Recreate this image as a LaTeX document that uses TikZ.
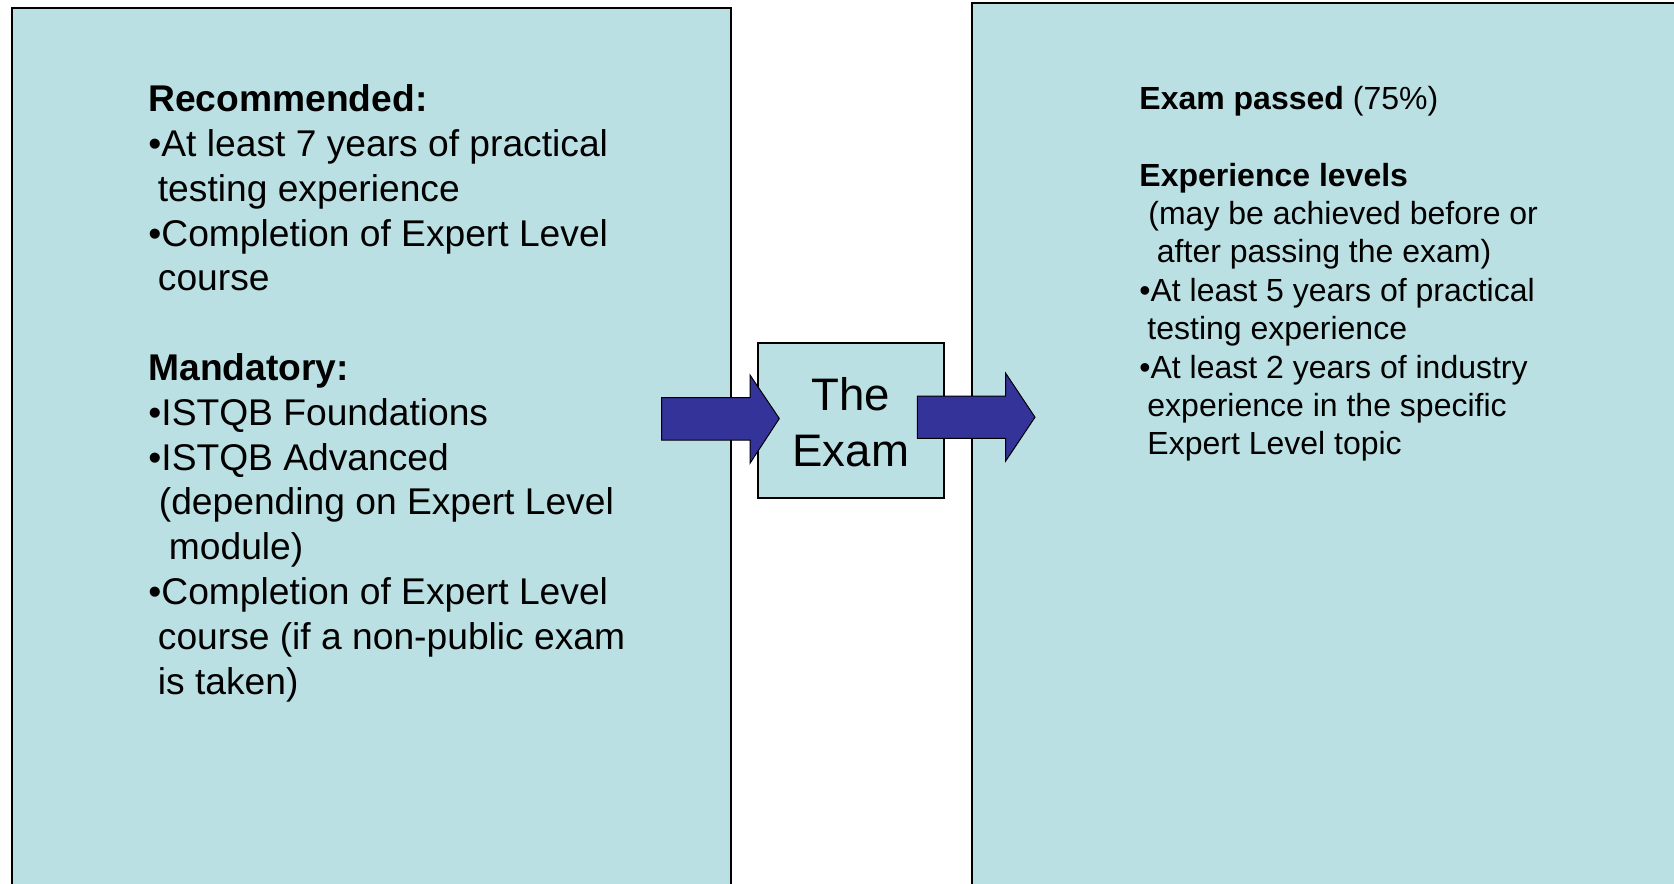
\documentclass[tikz,border=0pt]{standalone}
\usepackage{fontspec}
\setmainfont{Liberation Sans}
\definecolor{boxfill}{HTML}{BBE0E3}
\definecolor{arrowfill}{HTML}{333399}
\tikzset{
  panel/.style={draw=black, line width=0.9pt, fill=boxfill},
  blockarrow/.style={draw=black, line width=0.5pt, fill=arrowfill, line join=miter},
  ltext/.style={anchor=base west, inner sep=0pt, font=\fontsize{18.6pt}{22.4pt}\selectfont},
  rtext/.style={anchor=base west, inner sep=0pt, font=\fontsize{16pt}{19.2pt}\selectfont},
  examtext/.style={anchor=base, inner sep=0pt, font=\fontsize{22.8pt}{28pt}\selectfont}
}
\begin{document}
\begin{tikzpicture}[x=0.5pt,y=-0.5pt]
\useasboundingbox (0,0) rectangle (1674,883);
\clip (0,0) rectangle (1674,883);
% panels
\draw[panel] (12,8) rectangle (731,900);
\draw[panel] (972,3) rectangle (1700,900);
\node[panel, minimum width=93pt, minimum height=77.5pt, inner sep=0pt] (exam) at (850.7,420.2) {};
% block arrows
\draw[blockarrow] (661.7,397.7) -- (750,397.7) -- (750,375) -- (779.3,418.5) -- (750,463.3) -- (750,440) -- (661.7,440) -- cycle;
\draw[blockarrow] (917.3,396) -- (1005.7,396) -- (1005.7,373.3) -- (1035,417.2) -- (1005.7,461) -- (1005.7,438.3) -- (917.3,438.3) -- cycle;
% exam label
\node[examtext] (the) at (850.7,410) {The};
\node[examtext] (examw) at (850.7,466.7) {Exam};
% left text
\node[ltext] (l1) at (148,111.7) {\textbf{Recommended:}};
\node[ltext] (l2) at (148,156.5) {•At least 7 years of practical};
\node[ltext] (l3) at (157.5,201.3) {testing experience};
\node[ltext] (l4) at (148,246.1) {•Completion of Expert Level};
\node[ltext] (l5) at (157.5,290.9) {course};
\node[ltext] (l6) at (148,380.5) {\textbf{Mandatory:}};
\node[ltext] (l7) at (148,425.3) {•ISTQB Foundations};
\node[ltext] (l8) at (148,470.1) {•ISTQB Advanced};
\node[ltext] (l9) at (158.5,514.9) {(depending on Expert Level};
\node[ltext] (l10) at (168.5,559.7) {module)};
\node[ltext] (l11) at (148,604.5) {•Completion of Expert Level};
\node[ltext] (l12) at (157.5,649.3) {course (if a non-public exam};
\node[ltext] (l13) at (157.5,694.1) {is taken)};
% right text
\node[rtext] (r1) at (1139,109.3) {\textbf{Exam passed} (75\%)};
\node[rtext] (r2) at (1139,186.1) {\textbf{Experience levels}};
\node[rtext] (r3) at (1148,224.5) {(may be achieved before or};
\node[rtext] (r4) at (1156.5,262.9) {after passing the exam)};
\node[rtext] (r5) at (1139,301.3) {•At least 5 years of practical};
\node[rtext] (r6) at (1147,339.7) {testing experience};
\node[rtext] (r7) at (1139,378.1) {•At least 2 years of industry};
\node[rtext] (r8) at (1147,416.5) {experience in the specific};
\node[rtext] (r9) at (1147,454.9) {Expert Level topic};
\end{tikzpicture}
\end{document}
